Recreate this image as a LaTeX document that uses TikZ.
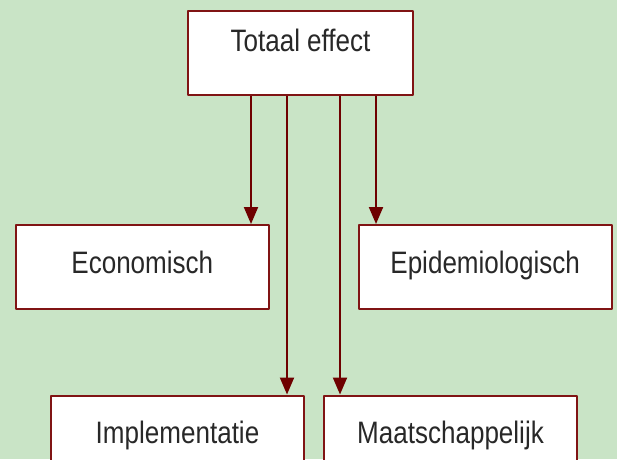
\documentclass[tikz,border=0pt]{standalone}
\usepackage{fontspec}
\setmainfont{Liberation Sans}[FakeStretch=0.84]
\usetikzlibrary{arrows.meta}
\definecolor{bggreen}{RGB}{201,228,198}
\definecolor{darkred}{RGB}{110,0,0}
\definecolor{boxred}{RGB}{128,20,20}
\definecolor{txtgrey}{RGB}{40,40,40}
\begin{document}
\begin{tikzpicture}[x=1pt, y=-1pt, line join = round, >={Triangle[length=17pt,width=14pt]}]
	\tikzset{effbox/.style={draw=boxred, fill=white, line width=2pt, inner sep=0pt, minimum height=84pt, text height=23pt, text depth=11pt, text=txtgrey, font=\fontsize{31}{36}\selectfont},
		effarrow/.style={->, draw=darkred, line width=2pt}}
	\clip (0,0) rectangle (617,459);
	\fill[bggreen] (0,0) rectangle (617,459);
	% boxes
	\node[effbox, minimum width=225pt, text depth=26pt] (totaal) at (300.5,53) {Totaal effect};
	\node[effbox, minimum width=253pt] (econ) at (142.3,267) {Economisch};
	\node[effbox, minimum width=253pt] (epi) at (485.2,267) {Epidemiologisch};
	\node[effbox, minimum width=253pt] (impl) at (177.5,437.5) {Implementatie};
	\node[effbox, minimum width=253pt] (maat) at (450.5,437.5) {Maatschappelijk};
	% arrows
	\draw[effarrow] ([xshift=-49.5pt]totaal.south) -- ([xshift=-49.5pt]totaal.south |- econ.north);
	\draw[effarrow] ([xshift=-13.5pt]totaal.south) -- ([xshift=-13.5pt]totaal.south |- impl.north);
	\draw[effarrow] ([xshift=39.5pt]totaal.south) -- ([xshift=39.5pt]totaal.south |- maat.north);
	\draw[effarrow] ([xshift=75.5pt]totaal.south) -- ([xshift=75.5pt]totaal.south |- epi.north);
\end{tikzpicture}
\end{document}
